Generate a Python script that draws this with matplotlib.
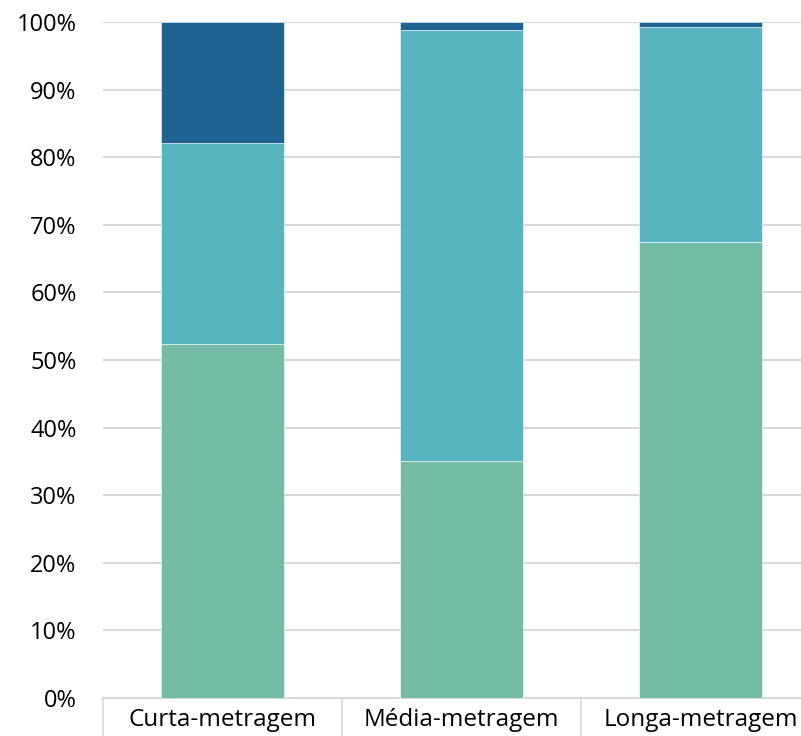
import numpy as np
import matplotlib.pyplot as plt
from matplotlib.ticker import PercentFormatter

plt.rcParams["font.family"] = ["Open Sans", "DejaVu Sans"]

categories = ["Curta-metragem", "Média-metragem", "Longa-metragem"]
# shares (%) of each segment, bottom to top
bottom_vals = [52.3, 35.1, 67.4]
middle_vals = [29.8, 63.7, 31.8]
top_vals = [17.9, 1.2, 0.8]

colors = ["#75BCA6", "#58B4BF", "#1F6393"]

fig = plt.figure(figsize=(8.01, 7.36), dpi=100)
ax = fig.add_axes([103 / 801, 38 / 736, 717 / 801, 676 / 736])

x = np.arange(len(categories))
w = 0.515
b0 = np.array(bottom_vals)
b1 = b0 + np.array(middle_vals)
ax.bar(x, bottom_vals, w, color=colors[0], edgecolor="white", linewidth=0.4, zorder=3)
ax.bar(x, middle_vals, w, bottom=b0, color=colors[1], edgecolor="white", linewidth=0.4, zorder=3)
ax.bar(x, top_vals, w, bottom=b1, color=colors[2], edgecolor="white", linewidth=0.4, zorder=3)

ax.set_xlim(-0.5, 2.5)
ax.set_ylim(0, 100)
ax.set_yticks(np.arange(0, 101, 10))
ax.yaxis.set_major_formatter(PercentFormatter(decimals=0))
ax.grid(axis="y", color="#D9D9D9", linewidth=1.5, zorder=0)
ax.tick_params(axis="y", length=0, pad=19, labelsize=17, labelcolor="#000000")

# category separators below the axis, labels centred between them
ax.set_xticks([-0.5, 0.5, 1.5, 2.5])
ax.set_xticklabels([])
ax.tick_params(axis="x", which="major", length=28, width=1.2, color="#D9D9D9", direction="out")
ax.set_xticks(x, minor=True)
ax.set_xticklabels(categories, minor=True)
ax.tick_params(axis="x", which="minor", length=0, pad=7, labelsize=17.5)

for s in ["top", "right", "left"]:
    ax.spines[s].set_visible(False)
ax.spines["bottom"].set_color("#D9D9D9")
ax.spines["bottom"].set_linewidth(1.5)

fig.savefig("out.png", dpi=100)
